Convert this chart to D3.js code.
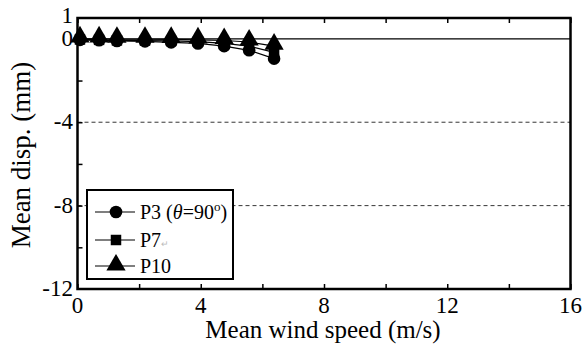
<!DOCTYPE html>
<html><head><meta charset="utf-8">
<script src="https://cdn.jsdelivr.net/npm/d3@7"></script>
<style>body{margin:0;background:#fff}svg{display:block}</style>
</head><body>
<script>
const windSpeed = [0.08, 0.7, 1.28, 2.19, 3.04, 3.91, 4.76, 5.57, 6.38];
const p3  = [-0.05, -0.07, -0.1, -0.12, -0.17, -0.22, -0.35, -0.55, -0.95];
const p7  = [-0.03, -0.05, -0.07, -0.08, -0.1, -0.13, -0.22, -0.35, -0.65];
const p10 = [0.0, 0.0, -0.02, -0.02, -0.03, -0.05, -0.08, -0.15, -0.35];
const xTickLabels = [0, 4, 8, 12, 16];
const yTickLabels = [1, 0, -4, -8, -12];
const seriesNames = ["P3", "P7", "P10"];

const W = 584, H = 351;
const FONT = "Liberation Serif";
const svg = d3.select("body").append("svg").attr("width", W).attr("height", H)
  .attr("font-family", FONT);
const x = d3.scaleLinear().domain([0, 16]).range([77.5, 570.5]);
const y = d3.scaleLinear().domain([1, -12]).range([18, 289]);

// grid dashed at -4, -8
[-4, -8].forEach(v => {
  svg.append("line").attr("x1", x(0)).attr("x2", x(16)).attr("y1", y(v)).attr("y2", y(v))
    .attr("stroke", "#000").attr("stroke-width", 0.8).attr("stroke-dasharray", "4,3");
});
svg.append("line").attr("x1", x(0)).attr("x2", x(16)).attr("y1", y(0)).attr("y2", y(0))
  .attr("stroke", "#000").attr("stroke-width", 1.2);

// axes ticks (inward)
const xb = svg.append("g").attr("transform", `translate(0,${y(-12)})`)
  .call(d3.axisBottom(x).tickValues(d3.range(0, 17, 2)).tickSize(-5).tickFormat(""));
const xt = svg.append("g").attr("transform", `translate(0,${y(1)})`)
  .call(d3.axisTop(x).tickValues(d3.range(0, 17, 2)).tickSize(-5).tickFormat(""));
const yl = svg.append("g").attr("transform", `translate(${x(0)},0)`)
  .call(d3.axisLeft(y).tickValues([-2, -4, -6, -8, -10]).tickSize(-5).tickFormat(""));
[xb, xt, yl].forEach(g => { g.select(".domain").remove(); g.selectAll("line").attr("stroke", "#000").attr("stroke-width", 1.5); });

// tick labels
svg.selectAll(".xl").data(xTickLabels).enter().append("text")
  .attr("x", d => x(d)).attr("y", 313).attr("text-anchor", "middle")
  .attr("font-size", 23).attr("font-family", FONT).text(d => d);
svg.selectAll(".yl").data(yTickLabels).enter().append("text")
  .attr("x", 73).attr("y", d => y(d) + 7 - (d === 1 ? 2 : 0)).attr("text-anchor", "end")
  .attr("font-size", 23).attr("font-family", FONT).text(d => d);

// axis titles
svg.append("text").attr("x", 323).attr("y", 338).attr("text-anchor", "middle")
  .attr("font-size", 25).attr("font-family", FONT).text("Mean wind speed (m/s)");
svg.append("text").attr("transform", "translate(30,155) rotate(-90)").attr("text-anchor", "middle")
  .attr("font-size", 27).attr("font-family", FONT).text("Mean disp. (mm)");

// series
const data = [p3, p7, p10];
const sym = [d3.symbolCircle, d3.symbolSquare, d3.symbolTriangle];
const sizes = [125, 110, 160];
const line = d3.line().x((d, i) => x(windSpeed[i])).y(d => y(d));
data.forEach((s, k) => {
  svg.append("path").attr("d", line(s)).attr("fill", "none").attr("stroke", "#000").attr("stroke-width", 1.2);
});
data.forEach((s, k) => {
  svg.selectAll(".m" + k).data(s).enter().append("path")
    .attr("transform", (d, i) => `translate(${x(windSpeed[i])},${y(d) - (k === 2 ? 2 : 0)})`)
    .attr("d", d3.symbol().type(sym[k]).size(sizes[k])).attr("fill", "#000");
});

// frame
svg.append("rect").attr("x", x(0)).attr("y", y(1)).attr("width", x(16) - x(0)).attr("height", y(-12) - y(1))
  .attr("fill", "none").attr("stroke", "#000").attr("stroke-width", 2.5);

// legend
const lg = svg.append("g");
lg.append("rect").attr("x", 87).attr("y", 190).attr("width", 146).attr("height", 89)
  .attr("fill", "#fff").attr("stroke", "#000").attr("stroke-width", 2);
const rows = [212, 240, 266];
seriesNames.forEach((n, k) => {
  lg.append("line").attr("x1", 95).attr("x2", 135).attr("y1", rows[k]).attr("y2", rows[k])
    .attr("stroke", "#000").attr("stroke-width", 1.2);
  lg.append("path").attr("transform", `translate(116,${rows[k] - (k === 2 ? 1 : 0)})`)
    .attr("d", d3.symbol().type(sym[k]).size(sizes[k])).attr("fill", "#000");
});
const t0 = lg.append("text").attr("x", 140).attr("y", rows[0] + 7).attr("font-size", 20).attr("font-family", FONT);
t0.append("tspan").text("P3 (");
t0.append("tspan").attr("font-style", "italic").text("θ");
t0.append("tspan").text("=90");
t0.append("tspan").attr("font-size", 13).attr("dy", -8).text("o");
t0.append("tspan").attr("dy", 8).text(")");
const t1 = lg.append("text").attr("x", 140).attr("y", rows[1] + 7).attr("font-size", 20).attr("font-family", FONT).text("P7");
t1.append("tspan").attr("font-size", 9).attr("fill", "#bbb").text("↵");
lg.append("text").attr("x", 140).attr("y", rows[2] + 7).attr("font-size", 20).attr("font-family", FONT).text("P10");
</script>
</body></html>
